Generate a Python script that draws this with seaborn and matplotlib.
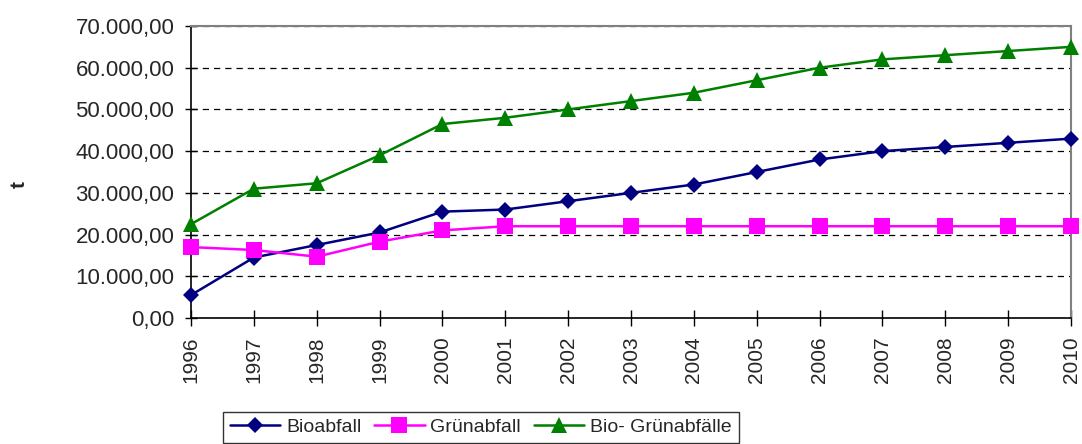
# Abfallmengen 1996-2010 (Bio-, Grünabfall)
import pandas as pd
import matplotlib
matplotlib.use("Agg")
import matplotlib.pyplot as plt
import matplotlib.ticker as mticker
import seaborn as sns

# Data
years = [1996, 1997, 1998, 1999, 2000, 2001, 2002, 2003, 2004, 2005, 2006, 2007, 2008, 2009, 2010]
bioabfall = [5500, 14500, 17500, 20500, 25500, 26000, 28000, 30000, 32000, 35000, 38000, 40000, 41000, 42000, 43000]
gruenabfall = [17000, 16300, 14700, 18300, 21000, 22000, 22000, 22000, 22000, 22000, 22000, 22000, 22000, 22000, 22000]
bio_gruen = [22500, 31000, 32300, 39000, 46500, 48000, 50000, 52000, 54000, 57000, 60000, 62000, 63000, 64000, 65000]
series_names = ["Bioabfall", "Grünabfall", "Bio- Grünabfälle"]

df = pd.DataFrame({"Jahr": years, series_names[0]: bioabfall,
                   series_names[1]: gruenabfall, series_names[2]: bio_gruen})
long_df = df.melt(id_vars="Jahr", var_name="Serie", value_name="t")

sns.set_style("white")
plt.rcParams['font.family'] = ['Liberation Sans', 'DejaVu Sans']

fig = plt.figure(figsize=(10.82, 4.44), dpi=100)
ax = fig.add_axes([191 / 1082, 1 - 318 / 444, 880 / 1082, 292 / 444])

colors = {"Bioabfall": "#000080", "Grünabfall": "#FF00FF", "Bio- Grünabfälle": "#008000"}
markers = {"Bioabfall": "D", "Grünabfall": "s", "Bio- Grünabfälle": "^"}
msizes = {"Bioabfall": 8.5, "Grünabfall": 11, "Bio- Grünabfälle": 12}

for name in series_names:
    sub = long_df[long_df["Serie"] == name]
    sns.lineplot(data=sub, x="Jahr", y="t", ax=ax, color=colors[name], marker=markers[name],
                 markersize=msizes[name], markeredgewidth=0, linewidth=1.8, label=name,
                 legend=False, clip_on=False, zorder=3)

ax.set_xlim(1996, 2010)
ax.set_ylim(0, 70000)
ax.set_xticks(years)
ax.set_xticklabels([str(y) for y in years], rotation=90, fontsize=15)
ax.yaxis.set_major_locator(mticker.MultipleLocator(10000))
ax.yaxis.set_major_formatter(mticker.FuncFormatter(
    lambda v, p: f"{v:,.2f}".replace(",", "X").replace(".", ",").replace("X", ".")))
ax.tick_params(axis="y", labelsize=16, direction="inout", length=8, width=1,
               color="black", pad=8, left=True)
ax.tick_params(axis="x", direction="inout", length=12, width=1, color="black", pad=7,
               bottom=True)
ax.set_xlabel("")
ax.set_ylabel("")
fig.text(19 / 1082, 1 - 184 / 444, "t", rotation=90, fontsize=15, fontweight="bold",
         ha="center", va="center")

ax.yaxis.grid(True, color="black", linestyle=(0, (5, 4)), linewidth=0.9)
ax.xaxis.grid(False)
for side in ["left", "bottom"]:
    ax.spines[side].set_color("black")
    ax.spines[side].set_linewidth(1.2)
for side in ["top", "right"]:
    ax.spines[side].set_color("#808080")
    ax.spines[side].set_linewidth(1.5)

handles, labels = ax.get_legend_handles_labels()
leg = fig.legend(handles, labels, loc="lower left", bbox_to_anchor=(223 / 1082, 1 / 444),
                 ncol=3, fontsize=14, frameon=True, fancybox=False, edgecolor="black",
                 handlelength=2.6, handletextpad=0.3, columnspacing=0.65, borderpad=0.35,
                 borderaxespad=0)
leg.get_frame().set_linewidth(1.0)

fig.savefig("out.png", dpi=100)
